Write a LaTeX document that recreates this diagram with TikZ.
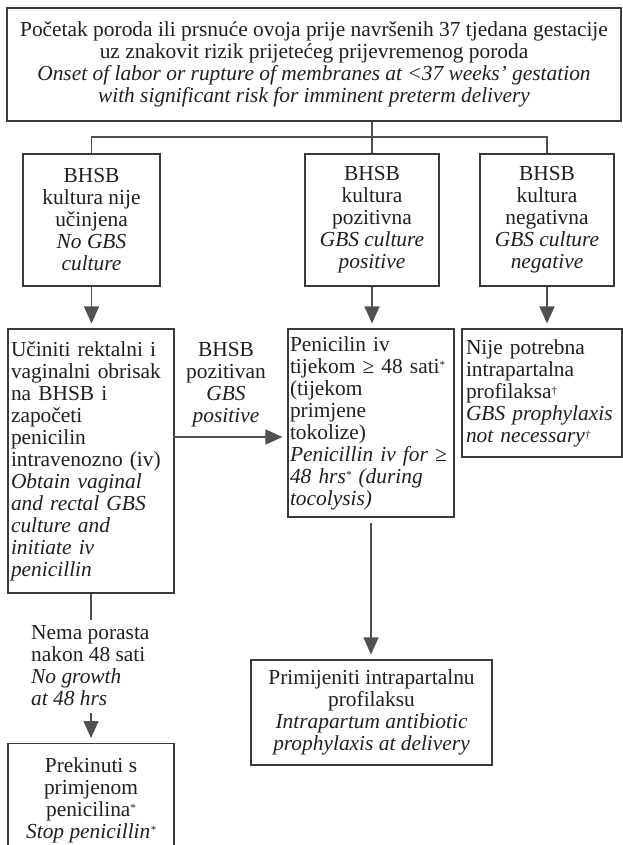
\documentclass[tikz,border=0pt]{standalone}
\usepackage{fontspec}
\setmainfont{Liberation Serif}
\usetikzlibrary{arrows.meta}
\definecolor{ink}{HTML}{231F20}
\definecolor{edge}{HTML}{3A3A3A}
\definecolor{wire}{HTML}{505050}
\newcommand\supast{\raisebox{5pt}{\fontsize{11}{11}\selectfont *}}
\newcommand\supdag{\raisebox{4pt}{\fontsize{11}{11}\selectfont †}}
\tikzset{
  txt/.style={text=ink, font=\fontsize{21.4}{22}\selectfont, inner sep=0pt},
  box/.style={txt, draw=edge, line width=1.1pt, rectangle},
  cbox/.style={box, align=center},
  lbox/.style={box, align=left},
  wireline/.style={draw=wire, line width=1.5pt},
  arr/.style={wireline, -{Triangle[length=17pt,width=15pt]}, shorten >=5pt},
}
\begin{document}
\begin{tikzpicture}[x=1pt,y=-1pt]
\useasboundingbox (0,0) rectangle (623,845);
\fill[white] (0,0) rectangle (623,845);

\node[cbox, minimum width=614pt, minimum height=113pt] (top) at (314,64.5)
 {Početak poroda ili prsnuće ovoja prije navršenih 37 tjedana gestacije\\
  uz znakovit rizik prijetećeg prijevremenog poroda\\
  {\itshape Onset of labor or rupture of membranes at <37 weeks’ gestation}\\
  {\itshape with significant risk for imminent preterm delivery}};

\node[cbox, minimum width=137pt, minimum height=132pt] (nogbs) at (91.5,220)
 {BHSB\\kultura nije\\učinjena\\{\itshape No GBS}\\{\itshape culture}};
\node[cbox, minimum width=134pt, minimum height=132pt] (pos) at (372,220)
 {BHSB\\kultura\\pozitivna\\{\itshape GBS culture}\\{\itshape positive}};
\node[cbox, minimum width=134pt, minimum height=132pt] (neg) at (547,220)
 {BHSB\\kultura\\negativna\\{\itshape GBS culture}\\{\itshape negative}};

\node[lbox, text width=160pt, inner xsep=3pt, minimum height=264pt] (obtain) at (91,461)
 {Učiniti rektalni i\\vaginalni obrisak\\na BHSB i\\započeti\\penicilin\\intravenozno (iv)\\
  {\itshape Obtain vaginal}\\{\itshape and rectal GBS}\\{\itshape culture and}\\{\itshape initiate iv}\\{\itshape penicillin}};

\node[lbox, text width=162pt, inner xsep=2pt, minimum height=188pt] (pen) at (371,423)
 {Penicilin iv\\tijekom ≥ 48 sati\supast\\(tijekom\\primjene\\tokolize)\\
  {\itshape Penicillin iv for ≥}\\{\itshape 48 hrs\supast{} (during}\\{\itshape tocolysis)}};

\node[lbox, text width=152pt, inner xsep=4pt, minimum height=128pt] (nije) at (542,393)
 {Nije potrebna\\intrapartalna\\profilaksa\supdag\\{\itshape GBS prophylaxis}\\{\itshape not necessary\supdag}};

\node[cbox, minimum width=241pt, minimum height=105pt] (prim) at (371.5,712.5)
 {Primijeniti intrapartalnu\\profilaksu\\{\itshape Intrapartum antibiotic}\\{\itshape prophylaxis at delivery}};

\node[cbox, anchor=north, minimum width=166pt, inner ysep=14pt] (stop) at (91,743)
 {Prekinuti s\\primjenom\\penicilina\supast\\{\itshape Stop penicillin\supast}};

\node[txt, align=center] (lbl) at (226,385)
 {BHSB\\pozitivan\\{\itshape GBS}\\{\itshape positive}};

\node[txt, align=left, anchor=west] (nema) at (31,666)
 {Nema porasta\\nakon 48 sati\\{\itshape No growth}\\{\itshape at 48 hrs}};

\coordinate (jn) at (372,137);
\coordinate (ha) at (174,437);

\draw[wireline] (top.south -| pos.north) -- (pos.north);
\draw[wireline] (nogbs.north) -- (nogbs.north |- jn) -- (neg.north |- jn) -- (neg.north);

\draw[arr] (nogbs.south) -- (nogbs.south |- obtain.north);
\draw[arr] (pos.south) -- (pos.south |- pen.north);
\draw[arr] (neg.south) -- (neg.south |- nije.north);
\draw[arr] (ha) -- (ha -| pen.west);
\draw[arr, shorten <=5pt] (pen.south) -- (pen.south |- prim.north);
\draw[wireline, shorten >=6pt] (obtain.south) -- (obtain.south |- nema.north);
\draw[arr, shorten <=7pt] (nema.south -| obtain.south) -- (stop.north);
\end{tikzpicture}
\end{document}
